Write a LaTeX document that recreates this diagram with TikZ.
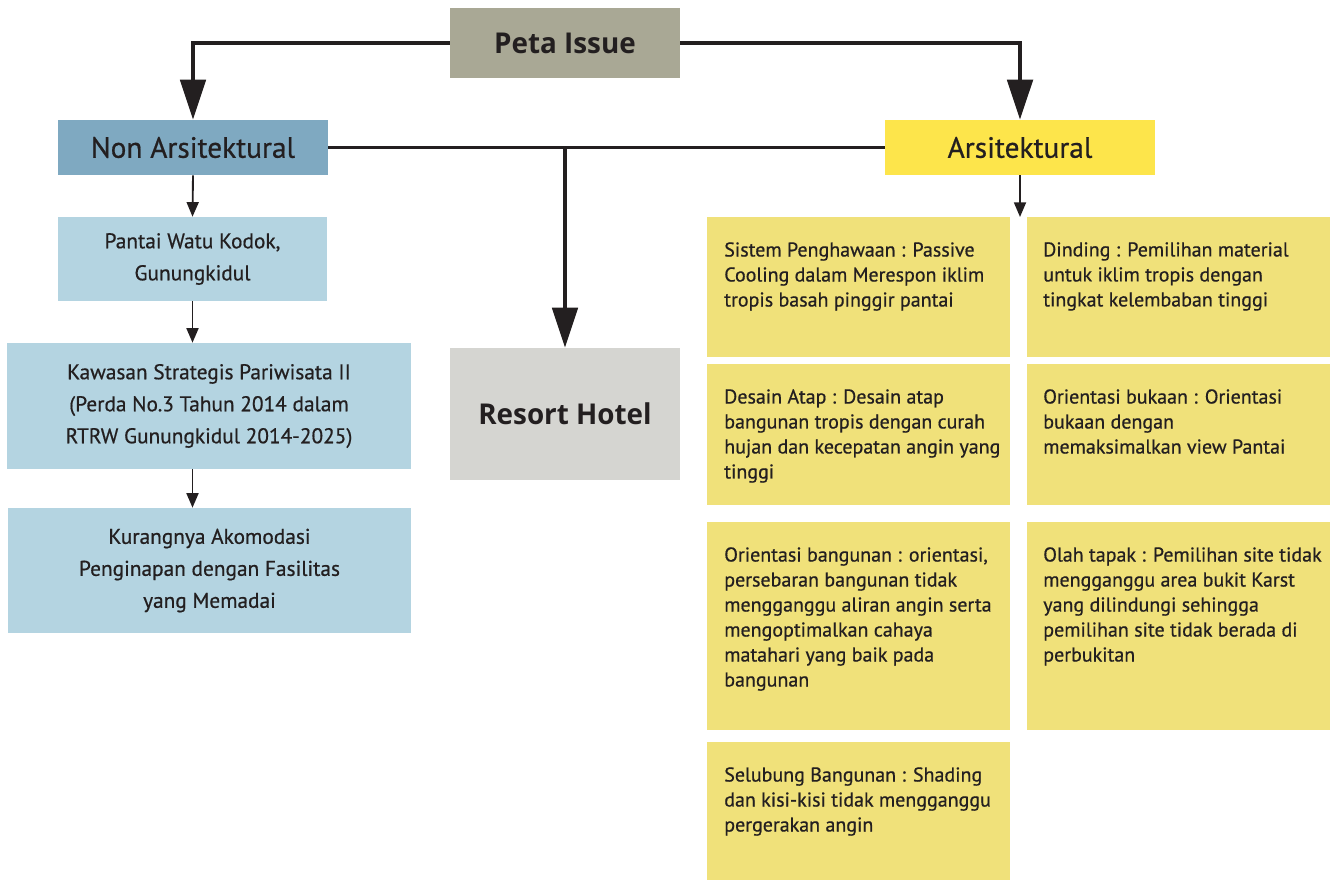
\documentclass[tikz,border=0pt]{standalone}
\usepackage{fontspec}
\setmainfont{PT Sans}[FakeBold=0.6]
\newfontfamily\titlefont{Open Sans}[FakeStretch=0.97]
\usetikzlibrary{arrows.meta,positioning}

\definecolor{ink}{RGB}{35,31,32}
\definecolor{petagray}{RGB}{169,168,149}
\definecolor{nonblue}{RGB}{127,169,193}
\definecolor{paleblue}{RGB}{180,212,225}
\definecolor{arsyellow}{RGB}{253,229,75}
\definecolor{boxyellow}{RGB}{240,225,122}
\definecolor{hotelgray}{RGB}{213,213,209}

\begin{document}
\begin{tikzpicture}[x=0.75pt,y=-0.75pt,
  every node/.style={text=ink},
  bigarrow/.style={draw=ink,line width=3pt,-{Triangle[length=30pt,width=19pt]}},
  smallarrow/.style={draw=ink,line width=1.4pt,-{Triangle[length=11pt,width=9pt]}},
  headbox/.style={fill=#1,minimum width=202.5pt,minimum height=41.25pt,inner sep=0pt,
    font=\fontsize{22}{24}\selectfont},
  titlebox/.style={fill=#1,minimum width=172.5pt,inner sep=0pt,
    font=\titlefont\fontsize{21.5}{24}\selectfont\bfseries},
  bluebox/.style={fill=paleblue,inner sep=0pt,align=center,
    font=\fontsize{16}{24}\selectfont},
  ybox/.style={fill=boxyellow,anchor=north west,minimum width=227.25pt,inner sep=0pt},
  ytext/.style={anchor=north west,inner sep=0pt,align=left,
    font=\fontsize{15}{18.75}\selectfont}]
\useasboundingbox (0,0) rectangle (1337,879);

% top of the map
\node[titlebox=petagray,minimum height=52.5pt] (peta) at (565,43) {Peta Issue};
\node[headbox=nonblue] (nonars) at (193,147.5) {Non Arsitektural};
\node[headbox=arsyellow] (ars) at (1020,147.5) {Arsitektural};
\node[titlebox=hotelgray,minimum height=99pt] (resort) at (565,414) {Resort Hotel};

\draw[bigarrow] (peta.west) -| (nonars.north);
\draw[bigarrow] (peta.east) -| (ars.north);
\draw[ink,line width=2.25pt] (nonars.east) -- (ars.west);
\coordinate (split) at (resort.north |- nonars.east);
\draw[bigarrow] (split) -- (resort.north);

% non arsitektural column
\node[bluebox,minimum width=201.75pt,minimum height=63pt] (pantai) at (192.5,259)
  {Pantai Watu Kodok,\\Gunungkidul};
\node[bluebox,minimum width=303pt,minimum height=94.5pt] (kawasan) at (209,406)
  {Kawasan Strategis Pariwisata II\\(Perda No.3 Tahun 2014 dalam\\RTRW Gunungkidul 2014-2025)};
\node[bluebox,minimum width=302.25pt,minimum height=93.75pt] (kurang) at (209.5,570.5)
  {Kurangnya Akomodasi\\Penginapan dengan Fasilitas\\yang Memadai};

\draw[smallarrow] (nonars.south) -- (pantai.north);
\draw[smallarrow] (pantai.south) -- (pantai.south |- kawasan.north);
\draw[smallarrow] (kawasan.south -| pantai.south) -- (kurang.north -| pantai.south);

% arsitektural boxes, two columns
\node[ybox,minimum height=105pt] (sistem) at (707,217) {};
\node[ybox,minimum height=105pt] (dinding) at (1027,217) {};
\node[ybox,minimum height=105.75pt] (atap) at (707,364) {};
\node[ybox,minimum height=105.75pt] (bukaan) at (1027,364) {};
\node[ybox,minimum height=156pt] (orient) at (707,522) {};
\node[ybox,minimum height=156pt] (tapak) at (1027,522) {};
\node[ybox,minimum height=110pt] (selubung) at (707,742) {};

\draw[smallarrow] (ars.south) -- (ars.south |- sistem.north);

\node[ytext] (tsistem) at ([shift={(17,25)}]sistem.north west)
  {Sistem Penghawaan : Passive\\Cooling dalam Merespon iklim\\tropis basah pinggir pantai};
\node[ytext] (tdinding) at ([shift={(16,25)}]dinding.north west)
  {Dinding : Pemilihan material\\untuk iklim tropis dengan\\tingkat kelembaban tinggi};
\node[ytext] (tatap) at ([shift={(17,25)}]atap.north west)
  {Desain Atap : Desain atap\\bangunan tropis dengan curah\\hujan dan kecepatan angin yang\\tinggi};
\node[ytext] (tbukaan) at ([shift={(16,25)}]bukaan.north west)
  {Orientasi bukaan : Orientasi\\bukaan dengan\\memaksimalkan view Pantai};
\node[ytext] (torient) at ([shift={(17,25)}]orient.north west)
  {Orientasi bangunan : orientasi,\\persebaran bangunan tidak\\mengganggu aliran angin serta\\mengoptimalkan cahaya\\matahari yang baik pada\\bangunan};
\node[ytext] (ttapak) at ([shift={(16,25)}]tapak.north west)
  {Olah tapak : Pemilihan site tidak\\mengganggu area bukit Karst\\yang dilindungi sehingga\\pemilihan site tidak berada di\\perbukitan};
\node[ytext] (tselubung) at ([shift={(17,25)}]selubung.north west)
  {Selubung Bangunan : Shading\\dan kisi-kisi tidak mengganggu\\pergerakan angin};
\end{tikzpicture}
\end{document}
